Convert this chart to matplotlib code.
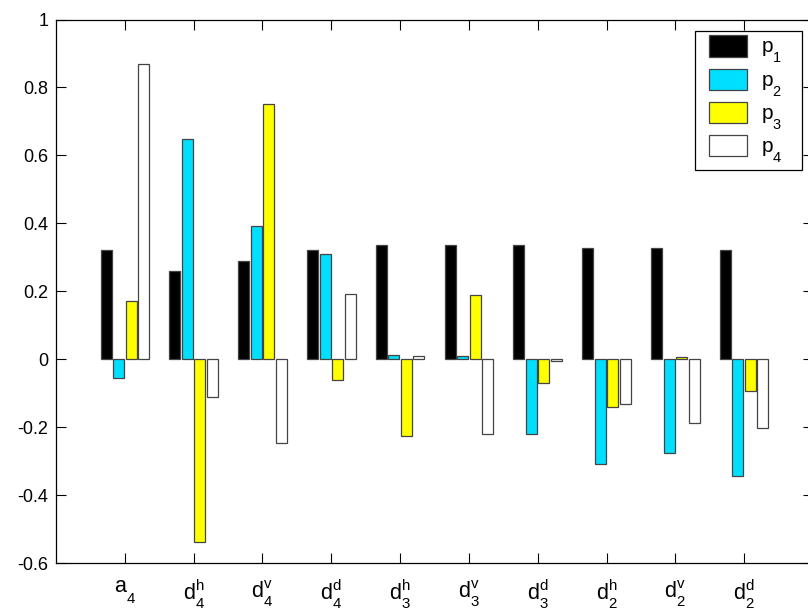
import numpy as np
import matplotlib
matplotlib.use("Agg")
import matplotlib.pyplot as plt
import matplotlib.patches as mpatches
from matplotlib.legend_handler import HandlerPatch

try:
    import matplotlib._mathtext as _mt
    _mt.FontConstantsBase.sub1 = 0.95
    _mt.FontConstantsBase.sub2 = 0.75
    _mt.FontConstantsBase.sup1 = 0.75
except Exception:
    pass

plt.rcParams['font.family'] = ['Liberation Sans', 'DejaVu Sans']
plt.rcParams['mathtext.fontset'] = 'custom'
plt.rcParams['mathtext.rm'] = 'Liberation Sans'
plt.rcParams['mathtext.it'] = 'Liberation Sans'
plt.rcParams['mathtext.default'] = 'regular'

categories = [r'$a_4$', r'$d_4^h$', r'$d_4^v$', r'$d_4^d$', r'$d_3^h$',
              r'$d_3^v$', r'$d_3^d$', r'$d_2^h$', r'$d_2^v$', r'$d_2^d$']
series_names = [r'$p_1$', r'$p_2$', r'$p_3$', r'$p_4$']
p1 = [0.321, 0.261, 0.289, 0.321, 0.336, 0.336, 0.336, 0.326, 0.326, 0.322]
p2 = [-0.055, 0.648, 0.391, 0.311, 0.011, 0.009, -0.221, -0.310, -0.277, -0.343]
p3 = [0.170, -0.538, 0.751, -0.060, -0.225, 0.188, -0.070, -0.141, 0.005, -0.094]
p4 = [0.868, -0.112, -0.247, 0.193, 0.010, -0.221, -0.006, -0.132, -0.189, -0.203]
ytick_labels = ['-0.6', '-0.4', '-0.2', '0', '0.2', '0.4', '0.6', '0.8', '1']
colors = ['#000000', '#00dfff', '#ffff00', '#ffffff']

W, H = 808, 612
fig = plt.figure(figsize=(W / 100, H / 100), dpi=100)
left, right, top, bottom = 56, 813, 19.5, 563
ax = fig.add_axes([left / W, 1 - bottom / H, (right - left) / W, (bottom - top) / H])

x = np.arange(1, len(categories) + 1)
spacing = 0.182
width = 0.16
containers = []
for i, (vals, c, name) in enumerate(zip([p1, p2, p3, p4], colors, series_names)):
    bc = ax.bar(x + (i - 1.5) * spacing, vals, width=width, color=c,
                edgecolor='#444444', linewidth=0.9, label=name)
    containers.append(bc)

ax.set_xlim(0, 11)
ax.set_ylim(-0.6, 1.0)
ax.set_xticks(x)
ax.set_xticklabels(categories, fontsize=15.5)
ax.set_yticks(np.linspace(-0.6, 1.0, len(ytick_labels)))
ax.set_yticklabels(ytick_labels, fontsize=13)
ax.tick_params(direction='in', length=7, width=0.8, top=True, right=True)
ax.tick_params(axis='y', pad=5.5)
ax.tick_params(axis='x', pad=11)
for s in ax.spines.values():
    s.set_linewidth(0.9)


def make_patch(legend, orig_handle, xdescent, ydescent, width, height, fontsize):
    off = 7
    return mpatches.Rectangle((-xdescent + off, -ydescent), width - off, height)


fs = 15
handles = [bc.patches[0] for bc in containers]
leg = ax.legend(handles, series_names,
                loc='upper left',
                bbox_to_anchor=(694.7 / W, 1 - 169 / H, 107 / W, 138.3 / H),
                bbox_transform=fig.transFigure, borderaxespad=0, mode='expand',
                fancybox=False, framealpha=1, edgecolor='black',
                fontsize=fs, handlelength=(41 + 7) / (fs * 100 / 72),
                handleheight=1.2, labelspacing=0.15, borderpad=0.22,
                handletextpad=0.66,
                handler_map={mpatches.Rectangle: HandlerPatch(patch_func=make_patch)})
leg.get_frame().set_linewidth(0.9)

fig.savefig('out.png', dpi=100)
